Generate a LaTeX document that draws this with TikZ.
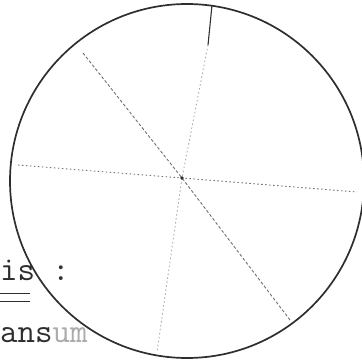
\documentclass[tikz,border=0pt]{standalone}
\usepackage{xcolor}
\usepackage{tikz}
\definecolor{inkdark}{HTML}{2E2E2E}
\definecolor{inkgrey}{HTML}{707070}
\definecolor{inkfaint}{HTML}{ABABAB}
\tikzset{every node/.append style={font=\ttfamily\fontsize{34}{34}\selectfont, inner sep=0pt}}
\tikzset{spoke/.style={inkgrey, line width=0.9pt, dash pattern=on 1.5pt off 2.5pt}}

\begin{document}
\begin{tikzpicture}[x=1pt, y=-1pt]
    \useasboundingbox (0,0) rectangle (361,363);

    % Spoke ends and centre
    \coordinate (mid) at (182,178);
    \coordinate (vtop) at (212,5);
    \coordinate (vknee) at (208,45);
    \coordinate (vbot) at (157,352);
    \coordinate (dtop) at (83,53);
    \coordinate (dbot) at (290,320);
    \coordinate (hleft) at (18,165);
    \coordinate (hright) at (357,192);

    % Spokes
    \draw[inkdark, line width=1.1pt] (vtop) -- (vknee);
    \draw[spoke, inkfaint] (vknee) -- (mid) -- (vbot);
    \draw[spoke, dash pattern=on 3pt off 2pt] (dtop) -- (mid) -- (dbot);
    \draw[spoke] (hleft) -- (mid) -- (hright);
    \fill[inkdark] (mid) circle (1.8pt);

    % Outer circle
    \draw[inkdark, line width=1.7pt] (187,181) circle (177pt);

    % Text at the left edge
    \node[anchor=base west, text=inkdark] (isword) at (0,280) {is};
    \node[anchor=base, text=inkdark] (colon) at (61,280) {:};
    \node[anchor=base west, text=inkdark] (ansum) at (0,342) {ans{\color{inkfaint}um}};
    \draw[inkdark, line width=0.9pt] (0,293) -- (30,293) (0,301) -- (30,301);
\end{tikzpicture}
\end{document}
